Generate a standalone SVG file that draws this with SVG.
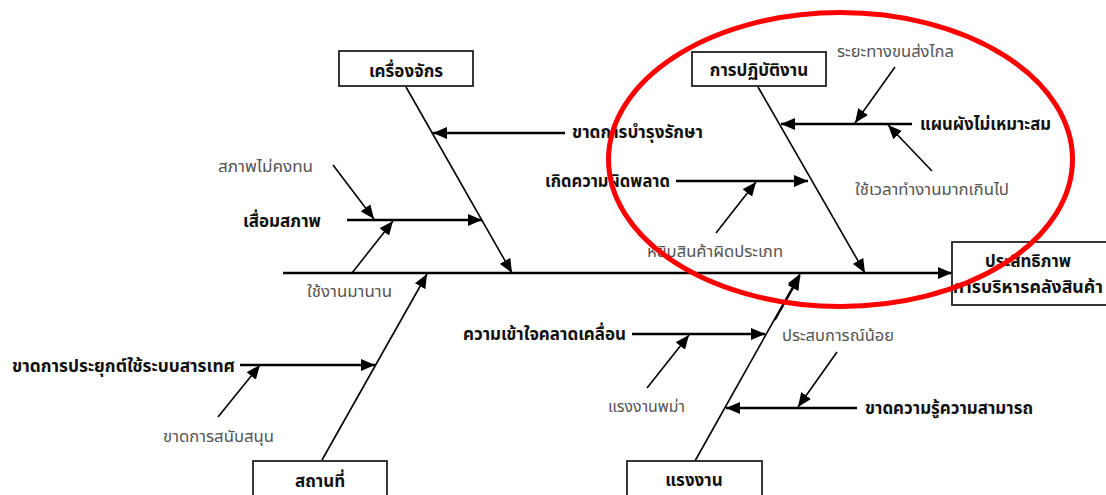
<svg xmlns="http://www.w3.org/2000/svg" width="1106" height="495" viewBox="0 0 1106 495">
<defs>
<marker id="ah" markerUnits="userSpaceOnUse" markerWidth="14" markerHeight="12" refX="14" refY="6" orient="auto">
<path d="M0,0 L14,6 L0,12 z" fill="#000"/>
</marker>
<style>
.box{fill:#fff;stroke:#222;stroke-width:1.8}
.b{font-family:"Noto Sans Thai","Tahoma","Liberation Sans","DejaVu Sans",sans-serif;font-weight:bold;font-size:17px;fill:#111}
.r{font-family:"Noto Sans Thai","Tahoma","Liberation Sans","DejaVu Sans",sans-serif;font-size:16px;fill:#555}
.c{text-anchor:middle}
.bone{stroke:#000;stroke-width:1.6;fill:none}
.br{stroke:#000;stroke-width:2.4;fill:none}
.sm{stroke:#000;stroke-width:1.6;fill:none}
</style>
</defs>
<rect width="1106" height="495" fill="#fff"/>

<g id="connectors">
<line class="br" x1="283" y1="273" x2="952" y2="273" marker-end="url(#ah)"/>
<line class="bone" x1="406" y1="87" x2="512" y2="273" marker-end="url(#ah)"/>
<line class="bone" x1="758" y1="87" x2="865" y2="273" marker-end="url(#ah)"/>
<line class="bone" x1="322" y1="460" x2="427" y2="274" marker-end="url(#ah)"/>
<line class="bone" x1="695" y1="461" x2="800" y2="274" marker-end="url(#ah)"/>
<line class="br" x1="565" y1="133" x2="433" y2="133" marker-end="url(#ah)"/>
<line class="br" x1="347" y1="220" x2="482" y2="220" marker-end="url(#ah)"/>
<line class="sm" x1="333" y1="165" x2="374" y2="219" marker-end="url(#ah)"/>
<line class="sm" x1="352" y1="273" x2="393" y2="221" marker-end="url(#ah)"/>
<line class="br" x1="240" y1="365" x2="375" y2="365" marker-end="url(#ah)"/>
<line class="sm" x1="218" y1="417" x2="260" y2="365" marker-end="url(#ah)"/>
<line class="br" x1="912" y1="124" x2="781" y2="124" marker-end="url(#ah)"/>
<line class="sm" x1="895" y1="67" x2="855" y2="123" marker-end="url(#ah)"/>
<line class="sm" x1="932" y1="171" x2="888" y2="125" marker-end="url(#ah)"/>
<line class="br" x1="676" y1="181" x2="808" y2="181" marker-end="url(#ah)"/>
<line class="sm" x1="716" y1="233" x2="756" y2="182" marker-end="url(#ah)"/>
<line class="br" x1="632" y1="334" x2="765" y2="334" marker-end="url(#ah)"/>
<line class="sm" x1="647" y1="388" x2="689" y2="335" marker-end="url(#ah)"/>
<line class="br" x1="857" y1="408" x2="726" y2="408" marker-end="url(#ah)"/>
<line class="sm" x1="837" y1="352" x2="798" y2="407" marker-end="url(#ah)"/>
<line class="sm" x1="775" y1="320" x2="800" y2="276" marker-end="url(#ah)"/>
</g>

<g id="node-machine"><rect class="box" x="339" y="51" width="134" height="35"/><text class="b c" x="406" y="77">เครื่องจักร</text></g>
<g id="node-operation"><rect class="box" x="692" y="52" width="134" height="34"/><text class="b c" x="759" y="76">การปฏิบัติงาน</text></g>
<g id="node-place"><rect class="box" x="253" y="461" width="134" height="40"/><text class="b c" x="320" y="487">สถานที่</text></g>
<g id="node-labor"><rect class="box" x="627" y="461" width="135" height="40"/><text class="b c" x="694" y="486">แรงงาน</text></g>
<g id="node-effect"><rect class="box" x="952" y="242" width="160" height="63"/><text class="b" x="985" y="267" textLength="86" lengthAdjust="spacingAndGlyphs">ประสิทธิภาพ</text><text class="b" x="953" y="293" textLength="150" lengthAdjust="spacingAndGlyphs">การบริหารคลังสินค้า</text></g>

<g id="label-maintenance"><text class="b" x="572" y="138" textLength="131" lengthAdjust="spacingAndGlyphs">ขาดการบำรุงรักษา</text></g>
<g id="label-unstable"><text class="r" x="218" y="172" textLength="95" lengthAdjust="spacingAndGlyphs">สภาพไม่คงทน</text></g>
<g id="label-deteriorate"><text class="b" x="243" y="227" textLength="78" lengthAdjust="spacingAndGlyphs">เสื่อมสภาพ</text></g>
<g id="label-longuse"><text class="r" x="307" y="297" textLength="85" lengthAdjust="spacingAndGlyphs">ใช้งานมานาน</text></g>
<g id="label-it"><text class="b" x="12" y="372" textLength="223" lengthAdjust="spacingAndGlyphs">ขาดการประยุกต์ใช้ระบบสารเทศ</text></g>
<g id="label-support"><text class="r" x="163" y="442" textLength="111" lengthAdjust="spacingAndGlyphs">ขาดการสนับสนุน</text></g>
<g id="label-distance"><text class="r" x="837" y="57" textLength="117" lengthAdjust="spacingAndGlyphs">ระยะทางขนส่งไกล</text></g>
<g id="label-layout"><text class="b" x="920" y="130" textLength="131" lengthAdjust="spacingAndGlyphs">แผนผังไม่เหมาะสม</text></g>
<g id="label-time"><text class="r" x="855" y="195" textLength="154" lengthAdjust="spacingAndGlyphs">ใช้เวลาทำงานมากเกินไป</text></g>
<g id="label-error"><text class="b" x="545" y="187" textLength="125" lengthAdjust="spacingAndGlyphs">เกิดความผิดพลาด</text></g>
<g id="label-wrongpick"><text class="r" x="647" y="257" textLength="136" lengthAdjust="spacingAndGlyphs">หยิบสินค้าผิดประเภท</text></g>
<g id="label-misunderstand"><text class="b" x="463" y="340" textLength="163" lengthAdjust="spacingAndGlyphs">ความเข้าใจคลาดเคลื่อน</text></g>
<g id="label-burmese"><text class="r" x="608" y="412" textLength="77" lengthAdjust="spacingAndGlyphs">แรงงานพม่า</text></g>
<g id="label-experience"><text class="r" x="782" y="341" textLength="112" lengthAdjust="spacingAndGlyphs">ประสบการณ์น้อย</text></g>
<g id="label-knowledge"><text class="b" x="865" y="414" textLength="168" lengthAdjust="spacingAndGlyphs">ขาดความรู้ความสามารถ</text></g>

<ellipse id="highlight" cx="840.5" cy="159.5" rx="232" ry="147" fill="none" stroke="#f00" stroke-width="5"/>
</svg>
